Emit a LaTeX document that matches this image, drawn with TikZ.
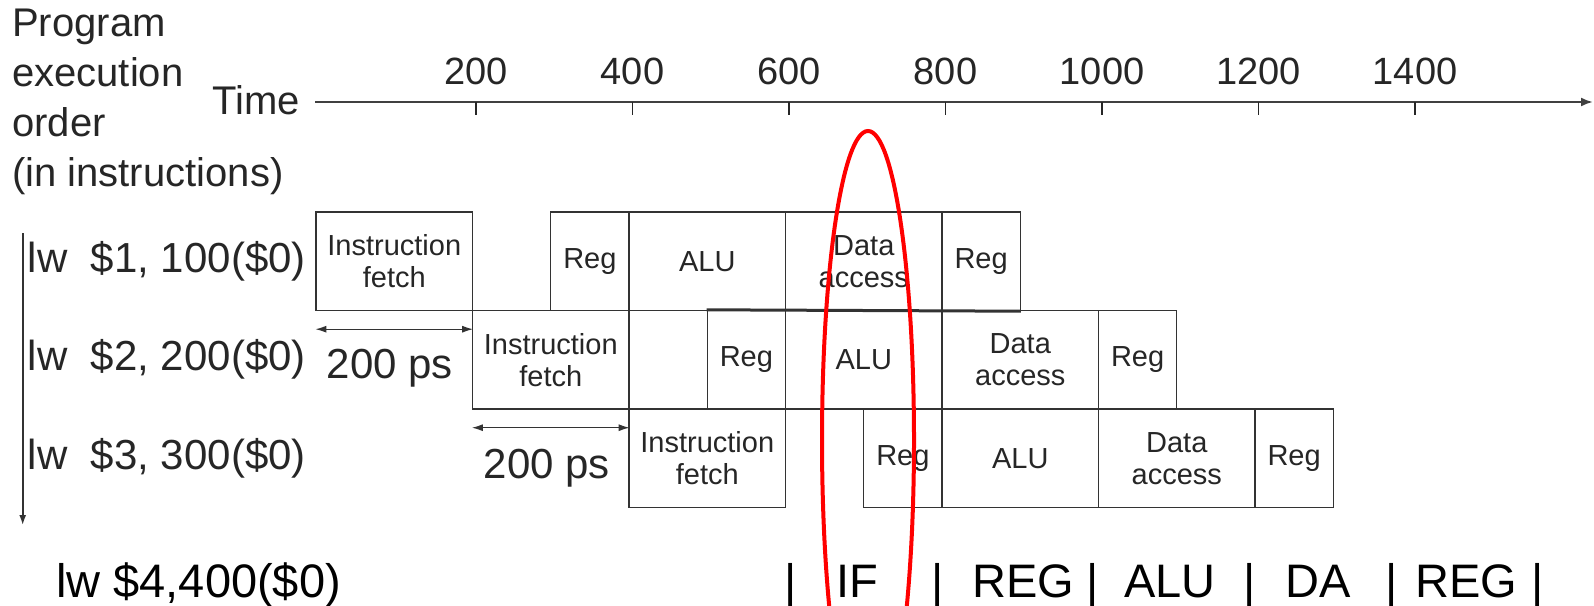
\documentclass[tikz,border=0pt]{standalone}
\usepackage{fontspec}
\setmainfont{Liberation Sans}
\usetikzlibrary{arrows.meta, positioning, calc}

\newcommand{\headfont}{\fontsize{40}{50}\selectfont}
\newcommand{\tickfont}{\fontsize{38}{40}\selectfont}
\newcommand{\lblfont}{\fontsize{42}{44}\selectfont}
\newcommand{\stagefont}{\fontsize{29}{32}\selectfont}
\newcommand{\bottomfont}{\fontsize{47}{50}\selectfont}

\tikzset{
  fig/.style={black!85},
  stage/.style={draw=black!80, line width=1.4pt, inner sep=0pt, align=center,
    text=black!85, font=\stagefont, minimum height=98.5pt},
  axis/.style={draw=black!75, line width=2.2pt, -{Latex[length=12pt,width=9pt]}},
  tick/.style={draw=black!85, line width=1.2pt},
  dim/.style={draw=black!80, line width=1.4pt, {Latex[length=11pt,width=7pt]}-{Latex[length=11pt,width=7pt]}},
  hilite/.style={draw=red, line width=4pt},
  bottomtxt/.style={inner sep=0pt, font=\bottomfont, text=black},
}

\begin{document}
\begin{tikzpicture}[x=1pt, y=-1pt]
  \useasboundingbox[fill=white] (0,0) rectangle (1594,605);

  % left header and time axis
  \node[fig, font=\headfont, align=left, anchor=west, inner sep=0pt] (hdr) at (12,102)
    {Program\\execution\\order\\(in instructions)};
  \node[fig, font=\headfont, anchor=east, inner sep=0pt] (time) at (300,100) {Time};
  \coordinate (tend) at (1593,102);
  \draw[axis] ([xshift=15pt]time.east |- tend) -- (tend);
  \foreach \t in {200,400,...,1400} {
    \pgfmathsetmacro\tx{319.5+0.7825*\t}
    \draw[tick] (\tx,102) -- (\tx,115);
    \node[fig, font=\tickfont, inner sep=0pt] (tl\t) at (\tx,71) {\t};
  }

  % three loads, each stage box placed on the ps scale (0 ps at x=316)
  \foreach \r/\reg/\off in {0/1/100, 1/2/200, 2/3/300} {
    \pgfmathsetmacro\ry{261.25+98.5*\r}
    \node[fig, font=\lblfont, anchor=east, inner sep=0pt] (lbl\r) at (306,\ry)
      {lw\ \ \$\reg, \off(\$0)};
    \foreach \s/\a/\b/\txt in {if/0/200/{Instruction\\fetch}, rga/300/400/Reg,
        alu/400/600/ALU, da/600/800/{Data\\access}, rgb/800/900/Reg} {
      \pgfmathsetmacro\xa{316+0.7825*(\a+200*\r)}
      \pgfmathsetmacro\xb{316+0.7825*(\b+200*\r)}
      \pgfmathsetmacro\w{\xb-\xa}
      \node[stage, minimum width=\w pt] (\s\r) at ({(\xa+\xb)/2},\ry) {\txt};
    }
  }
  % doubled edge where the second row sits under the first
  \draw[black!80, line width=3pt] (rga1.north west) -- (rgb0.south east);

  % 200 ps spans
  \draw[dim] ([yshift=-18pt]if0.south west) -- ([yshift=-18pt]if0.south east);
  \node[fig, font=\lblfont, inner sep=0pt] (ps0) at (390,368) {200 ps};
  \draw[dim] ([yshift=-18pt]if1.south west) -- ([yshift=-18pt]if1.south east);
  \node[fig, font=\lblfont, inner sep=0pt] (ps1) at (547,468) {200 ps};

  % program order arrow
  \coordinate (ordtop) at (22.7,233);
  \coordinate (ordbot) at (22.7,525);
  \draw[draw=black!80, line width=1.6pt, -{Latex[length=10pt,width=7pt]}] (ordtop) -- (ordbot);

  % fourth load, typed under the figure
  \node[bottomtxt, anchor=base west] (lw4) at (56,597) {lw \$4,400(\$0)};
  \foreach \n/\bx in {1/791, 2/938, 3/1093, 4/1250, 5/1392, 6/1538}
    \node[bottomtxt, anchor=base] (bar\n) at (\bx,597) {|};
  \node[bottomtxt, anchor=base] (sIF) at (857,597) {IF};
  \node[bottomtxt, anchor=base] (sREGa) at (1023,597) {REG};
  \node[bottomtxt, anchor=base] (sALU) at (1170,597) {ALU};
  \node[bottomtxt, anchor=base] (sDA) at (1318,597) {DA};
  \node[bottomtxt, anchor=base] (sREGb) at (1466,597) {REG};

  % highlight of the 700-800 ps column
  \draw[hilite] (868,440) ellipse [x radius=46, y radius=309];
\end{tikzpicture}
\end{document}
